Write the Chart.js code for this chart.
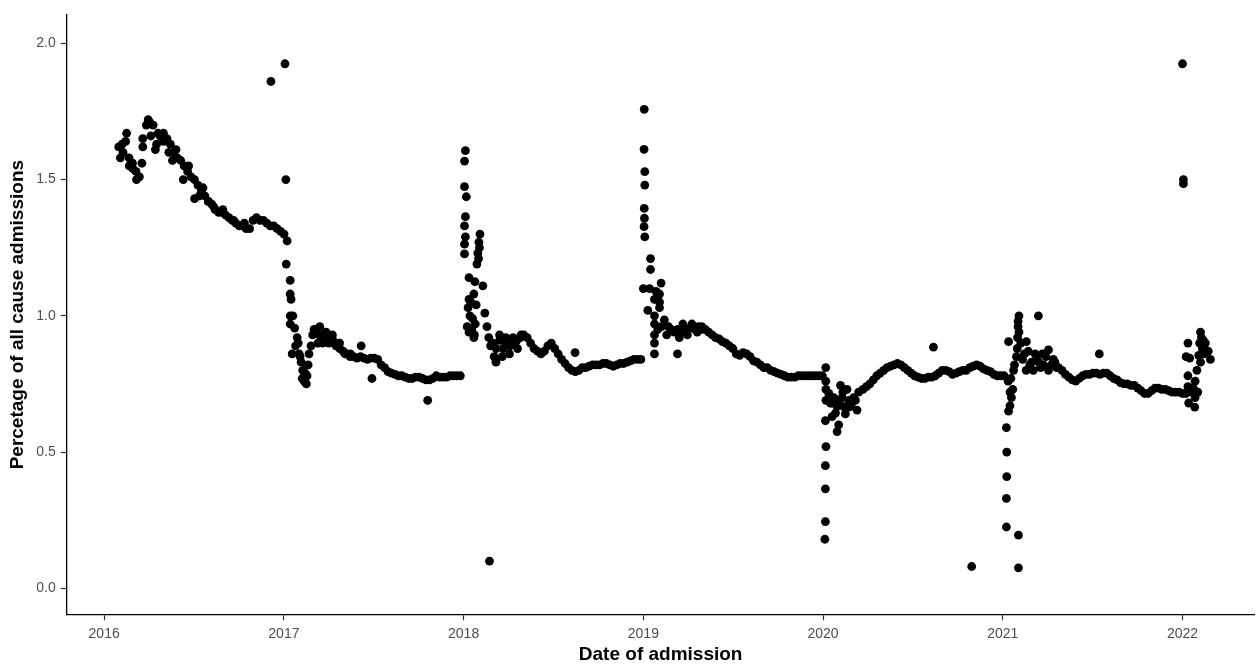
<!DOCTYPE html>
<html>
<head>
<meta charset="utf-8">
<script src="https://cdn.jsdelivr.net/npm/chart.js@4.4.1/dist/chart.umd.min.js"></script>
<style>
html,body{margin:0;padding:0;background:#fff;}
#wrap{width:1259px;height:664px;}
</style>
</head>
<body>
<div id="wrap"><canvas id="c" width="1259" height="664"></canvas></div>
<script>
// ---- Data (x in decimal years, y in percent) ----
const xTickYears = [2016, 2017, 2018, 2019, 2020, 2021, 2022];
const yTickValues = [0, 0.5, 1, 1.5, 2];

// weekly readings of the main band
const start2016 = 2016.081;
const trend2016 = [1.62,1.63,1.64,1.58,1.56,1.53,1.51,1.62,1.70,1.71,1.70,1.63,1.66,1.67,1.65,1.63,1.60,1.58,1.57,1.55,1.53,1.51,1.50,1.48,1.46,1.44,1.42,1.41,1.39,1.38,1.38,1.37,1.36,1.35,1.34,1.33,1.33,1.32,1.32,1.35,1.36,1.35,1.35,1.34,1.33,1.33,1.32,1.31,1.30];
const start2017 = 2017.177;
const trend2017 = [0.95,0.93,0.93,0.92,0.92,0.91,0.90,0.88,0.87,0.86,0.85,0.85,0.845,0.85,0.845,0.84,0.845,0.845,0.84,0.82,0.81,0.795,0.79,0.785,0.78,0.78,0.775,0.77,0.77,0.775,0.775,0.77,0.765,0.765,0.77,0.78,0.775,0.775,0.775,0.78,0.78,0.78,0.78];
const start2018 = 2018.162;
const trend2018 = [0.90,0.88,0.91,0.88,0.90,0.89,0.90,0.91,0.92,0.93,0.92,0.90,0.88,0.87,0.86,0.87,0.89,0.90,0.88,0.86,0.84,0.825,0.81,0.80,0.795,0.80,0.81,0.81,0.815,0.82,0.82,0.82,0.825,0.825,0.82,0.815,0.82,0.825,0.825,0.83,0.835,0.84,0.84,0.84];
const start2019 = 2019.172;
const trend2019 = [0.94,0.95,0.94,0.95,0.95,0.96,0.95,0.96,0.96,0.95,0.94,0.93,0.92,0.915,0.905,0.90,0.89,0.88,0.86,0.855,0.865,0.86,0.85,0.835,0.83,0.82,0.81,0.81,0.80,0.795,0.79,0.785,0.78,0.775,0.775,0.775,0.78,0.78,0.78,0.78,0.78,0.78,0.78,0.78];
const start2020 = 2020.222;
const trend2020 = [0.73,0.74,0.75,0.765,0.78,0.79,0.80,0.81,0.815,0.82,0.825,0.82,0.81,0.80,0.79,0.78,0.775,0.77,0.77,0.775,0.775,0.78,0.79,0.80,0.80,0.795,0.785,0.79,0.795,0.80,0.80,0.81,0.815,0.82,0.815,0.805,0.80,0.795,0.785,0.78,0.78,0.78];
const start2021 = 2021.31;
const trend2021 = [0.81,0.80,0.785,0.775,0.765,0.76,0.77,0.78,0.785,0.785,0.79,0.79,0.785,0.79,0.79,0.78,0.77,0.765,0.755,0.75,0.75,0.745,0.745,0.735,0.725,0.715,0.715,0.725,0.735,0.735,0.73,0.73,0.725,0.72,0.72,0.72,0.715,0.715];

// individual readings [year, value]
const extra2016 = [[2016.09,1.58],[2016.105,1.60],[2016.125,1.67],[2016.14,1.55],[2016.16,1.54],[2016.18,1.50],[2016.21,1.56],[2016.215,1.65],[2016.245,1.72],[2016.26,1.66],[2016.285,1.61],[2016.30,1.67],[2016.33,1.64],[2016.36,1.60],[2016.38,1.57],[2016.40,1.61],[2016.44,1.50],[2016.47,1.55],[2016.503,1.43],[2016.53,1.44],[2016.55,1.47],[2016.58,1.42],[2016.61,1.40],[2016.66,1.39],[2016.72,1.35],[2016.78,1.34]];
const spike2017 = [[2016.928,1.86],[2017.006,1.925],[2017.011,1.50],[2017.018,1.275],[2017.013,1.19],[2017.035,1.13],[2017.035,1.08],[2017.04,1.06],[2017.035,1.00],[2017.05,1.00],[2017.035,0.97],[2017.06,0.955],[2017.074,0.92],[2017.046,0.86],[2017.085,0.86],[2017.096,0.83],[2017.065,0.89],[2017.08,0.90],[2017.09,0.85],[2017.105,0.80],[2017.102,0.77],[2017.113,0.76],[2017.125,0.75],[2017.129,0.78],[2017.118,0.79],[2017.135,0.82],[2017.14,0.86],[2017.151,0.89],[2017.16,0.93],[2017.168,0.95]];
const extra2017 = [[2017.19,0.90],[2017.20,0.96],[2017.215,0.90],[2017.235,0.94],[2017.25,0.90],[2017.27,0.93],[2017.29,0.89],[2017.31,0.90],[2017.34,0.86],[2017.37,0.86],[2017.43,0.89],[2017.49,0.77],[2017.80,0.69]];
const spike2018 = [[2018.01,1.606],[2018.005,1.568],[2018.005,1.474],[2018.015,1.437],[2018.01,1.364],[2018.005,1.33],[2018.01,1.29],[2018.005,1.263],[2018.005,1.227],[2018.03,1.14],[2018.03,1.06],[2018.025,1.03],[2018.035,1.00],[2018.02,0.96],[2018.03,0.94],[2018.057,0.92],[2018.05,0.99],[2018.057,1.08],[2018.063,1.125],[2018.074,1.19],[2018.079,1.23],[2018.085,1.27],[2018.091,1.30],[2018.088,1.25],[2018.083,1.21],[2018.107,1.11],[2018.118,1.01],[2018.13,0.96],[2018.14,0.92],[2018.15,0.89],[2018.16,0.90],[2018.18,0.83],[2018.17,0.85],[2018.045,0.95],[2018.04,1.05],[2018.065,0.97],[2018.07,1.04],[2018.06,0.93]];
const extra2018 = [[2018.18,0.84],[2018.20,0.93],[2018.215,0.85],[2018.235,0.92],[2018.255,0.86],[2018.275,0.92],[2018.30,0.88],[2018.32,0.93],[2018.144,0.10],[2018.62,0.865]];
const spike2019 = [[2019.005,1.758],[2019.004,1.611],[2019.008,1.529],[2019.008,1.48],[2019.005,1.394],[2019.006,1.358],[2019.004,1.327],[2019.008,1.29],[2019.04,1.21],[2019.04,1.17],[2019.0,1.10],[2019.035,1.10],[2019.025,1.02],[2019.062,1.06],[2019.062,1.00],[2019.062,0.97],[2019.062,0.93],[2019.062,0.90],[2019.062,0.86],[2019.099,1.12],[2019.09,1.08],[2019.09,1.05],[2019.09,1.03],[2019.117,0.985],[2019.154,0.95],[2019.07,1.09],[2019.08,0.95],[2019.10,0.96],[2019.13,0.93],[2019.14,0.96]];
const extra2019 = [[2019.19,0.86],[2019.20,0.92],[2019.22,0.97],[2019.245,0.93],[2019.27,0.97],[2019.30,0.94],[2019.33,0.95]];
const dip2020 = [[2020.015,0.81],[2020.015,0.76],[2020.016,0.73],[2020.016,0.69],[2020.013,0.615],[2020.016,0.52],[2020.013,0.45],[2020.013,0.365],[2020.013,0.245],[2020.01,0.18],[2020.032,0.715],[2020.041,0.68],[2020.05,0.63],[2020.06,0.70],[2020.069,0.643],[2020.078,0.667],[2020.078,0.575],[2020.087,0.60],[2020.097,0.745],[2020.106,0.70],[2020.115,0.667],[2020.124,0.64],[2020.133,0.73],[2020.143,0.69],[2020.152,0.667],[2020.17,0.70],[2020.189,0.654],[2020.198,0.72],[2020.05,0.68],[2020.09,0.68],[2020.16,0.68],[2020.13,0.66],[2020.11,0.72],[2020.18,0.69]];
const extra2020 = [[2020.614,0.885],[2020.827,0.08]];
const dip2021 = [[2021.02,0.59],[2021.022,0.50],[2021.022,0.41],[2021.02,0.33],[2021.02,0.225],[2021.087,0.195],[2021.087,0.075],[2021.032,0.905],[2021.032,0.65],[2021.04,0.67],[2021.048,0.70],[2021.055,0.73],[2021.045,0.77],[2021.06,0.80],[2021.065,0.82],[2021.076,0.85],[2021.08,0.88],[2021.082,0.92],[2021.085,0.96],[2021.09,1.00],[2021.085,0.98],[2021.09,0.94],[2021.10,0.90],[2021.131,0.905],[2021.142,0.87],[2021.17,0.80],[2021.187,0.84],[2021.198,1.00],[2021.226,0.82],[2021.254,0.875],[2021.254,0.80],[2021.281,0.84],[2021.24,0.85],[2021.21,0.81],[2021.16,0.83],[2021.12,0.86],[2021.03,0.76],[2021.04,0.72],[2021.11,0.84],[2021.15,0.82],[2021.18,0.86],[2021.20,0.83],[2021.22,0.86],[2021.27,0.82],[2021.29,0.83],[2021.30,0.81],[2021.13,0.80]];
const extra2021 = [[2021.537,0.86]];
const spike2022 = [[2022.0,1.925],[2022.005,1.50],[2022.005,1.485],[2022.03,0.90],[2022.02,0.85],[2022.04,0.845],[2022.03,0.78],[2022.03,0.74],[2022.034,0.68],[2022.068,0.665],[2022.06,0.735],[2022.07,0.76],[2022.08,0.80],[2022.09,0.855],[2022.095,0.90],[2022.10,0.94],[2022.105,0.92],[2022.127,0.90],[2022.143,0.87],[2022.155,0.84],[2022.11,0.88],[2022.12,0.86],[2022.085,0.72],[2022.05,0.72],[2022.07,0.70],[2022.10,0.83],[2022.115,0.91]];

// ---- Build points ----
const WEEK = 7 / 365.25;
function weekly(start, vals) { return vals.map((v, i) => ({x: start + i * WEEK, y: v})); }
function pairs(arr) { return arr.map(p => ({x: p[0], y: p[1]})); }
const points = [].concat(
  weekly(start2016, trend2016), weekly(start2017, trend2017), weekly(start2018, trend2018),
  weekly(start2019, trend2019), weekly(start2020, trend2020), weekly(start2021, trend2021),
  pairs(extra2016), pairs(spike2017), pairs(extra2017), pairs(spike2018), pairs(extra2018),
  pairs(spike2019), pairs(extra2019), pairs(dip2020), pairs(extra2020), pairs(dip2021),
  pairs(extra2021), pairs(spike2022)
);

const FONT = "'Liberation Sans', Arial, sans-serif";
new Chart(document.getElementById('c'), {
  type: 'scatter',
  data: { datasets: [{ data: points, pointRadius: 4.4, pointHoverRadius: 4.4, backgroundColor: '#000', borderWidth: 0, pointBorderWidth: 0 }] },
  options: {
    responsive: false,
    animation: false,
    devicePixelRatio: 1,
    layout: { padding: { top: 15, right: 0, left: 0, bottom: 0 } },
    plugins: { legend: { display: false }, tooltip: { enabled: false } },
    scales: {
      x: {
        type: 'linear', min: 2015.7916, max: 2022.401,
        afterBuildTicks: s => { s.ticks = xTickYears.map(v => ({value: v})); },
        afterFit: s => { s.height = 49.7; },
        grid: { display: true, drawOnChartArea: false, drawTicks: true, tickLength: 6, tickColor: '#333', tickWidth: 1.2 },
        border: { display: true, color: '#000', width: 1.3 },
        ticks: { color: '#4d4d4d', font: { family: FONT, size: 14 }, padding: 5, maxRotation: 0, callback: v => String(v) },
        title: { display: true, text: 'Date of admission', color: '#000', font: { family: FONT, size: 19, weight: 'bold', lineHeight: 1 }, padding: { top: 0, bottom: 0 } }
      },
      y: {
        type: 'linear', min: -0.0954, max: 2.104,
        afterBuildTicks: s => { s.ticks = yTickValues.map(v => ({value: v})); },
        afterFit: s => { s.width = 66.7; },
        grid: { display: true, drawOnChartArea: false, drawTicks: true, tickLength: 6, tickColor: '#333', tickWidth: 1.2 },
        border: { display: true, color: '#000', width: 1.3 },
        ticks: { color: '#4d4d4d', font: { family: FONT, size: 14 }, padding: 5, callback: v => v.toFixed(1) },
        title: { display: true, text: 'Percetage of all cause admissions', color: '#000', font: { family: FONT, size: 19, weight: 'bold', lineHeight: 1 }, padding: { top: 8.5, bottom: 0 } }
      }
    }
  }
});
</script>
</body>
</html>
